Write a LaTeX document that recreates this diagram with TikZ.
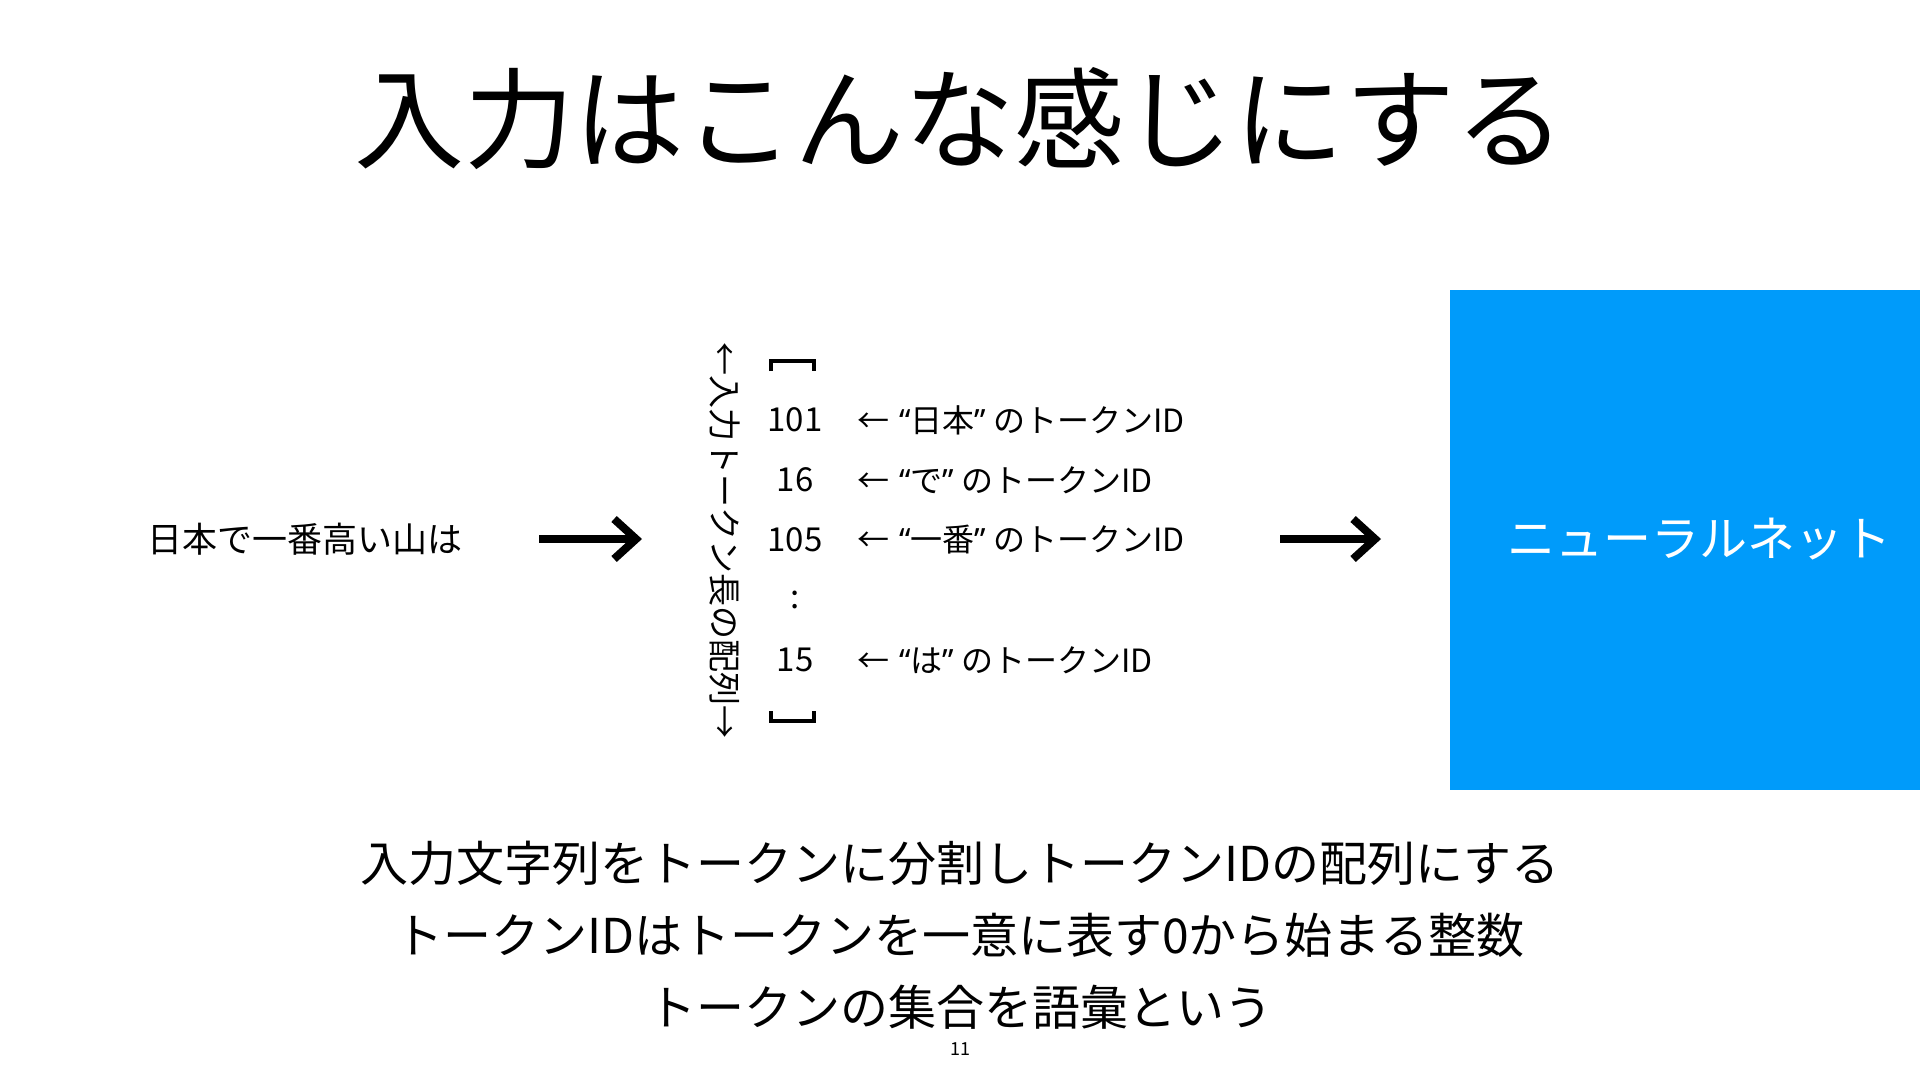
\documentclass[tikz,border=0pt]{standalone}
\usepackage{fontspec}
\setmainfont{Noto Sans CJK JP}
\newfontfamily\latinfont{Noto Sans}
\usetikzlibrary{arrows.meta}
\definecolor{pdfcolor1}{RGB}{0,155,250}
\newcommand{\quoted}[1]{{\latinfont “}#1{\latinfont ”}}

\begin{document}
\begin{tikzpicture}[x=1bp,y=-1bp,inner sep=0pt,outer sep=0pt,
  bigarrow/.style={line width=8bp,-{Straight Barb[length=22bp,width=40bp]}},
  tokid/.style={anchor=center,font=\fontsize{33bp}{40bp}\selectfont},
  tokrow/.style={anchor=west,font=\fontsize{32bp}{38bp}\selectfont},
  bottomline/.style={anchor=center,font=\fontsize{48bp}{58bp}\selectfont},
  bracket/.style={line width=4.5bp}]
  \useasboundingbox (0,0) rectangle (1920,1080);
  \node[font=\fontsize{110bp}{132bp}\selectfont] (title) at (960,119) {入力はこんな感じにする};
  \node[font=\fontsize{35bp}{42bp}\selectfont] (input) at (305,539) {日本で一番高い山は};
  \coordinate (arrowAin) at (539,539);
  \coordinate (arrowAout) at (642,539);
  \draw[bigarrow] (arrowAin) -- (arrowAout);
  \node[rotate=-90,font=\fontsize{33bp}{40bp}\selectfont] (seqlen) at (725,540) {←入力トークン長の配列→};
  \draw[bracket] (771,371) -- (771,361) -- (814,361) -- (814,371);
  \draw[bracket] (771,711) -- (771,721) -- (814,721) -- (814,711);
  \node[tokid] (id1) at (795,420) {101};
  \node[tokid] (id2) at (795,480) {16};
  \node[tokid] (id3) at (795,540) {105};
  \node[tokid] (idmore) at (795,600) {:};
  \node[tokid] (id4) at (795,660) {15};
  \node[tokrow] (row1) at (857,420) {←\hspace{10bp}\quoted{日本} のトークンID};
  \node[tokrow] (row2) at (857,480) {←\hspace{10bp}\quoted{で} のトークンID};
  \node[tokrow] (row3) at (857,540) {←\hspace{10bp}\quoted{一番} のトークンID};
  \node[tokrow] (row4) at (857,660) {←\hspace{10bp}\quoted{は} のトークンID};
  \coordinate (arrowBin) at (1280,539);
  \coordinate (arrowBout) at (1381,539);
  \draw[bigarrow] (arrowBin) -- (arrowBout);
  \node[fill=pdfcolor1,anchor=north west,minimum width=470bp,minimum height=500bp] (net) at (1450,290) {};
  \node[text=white,font=\fontsize{48bp}{58bp}\selectfont] (netlabel) at (1699,539) {ニューラルネット};
  \node[bottomline] (line1) at (960,863) {入力文字列をトークンに分割しトークンIDの配列にする};
  \node[bottomline] (line2) at (960,935) {トークンIDはトークンを一意に表す0から始まる整数};
  \node[bottomline] (line3) at (960,1007) {トークンの集合を語彙という};
  \node[font=\fontsize{18bp}{22bp}\selectfont] (page) at (960,1049) {11};
\end{tikzpicture}
\end{document}
